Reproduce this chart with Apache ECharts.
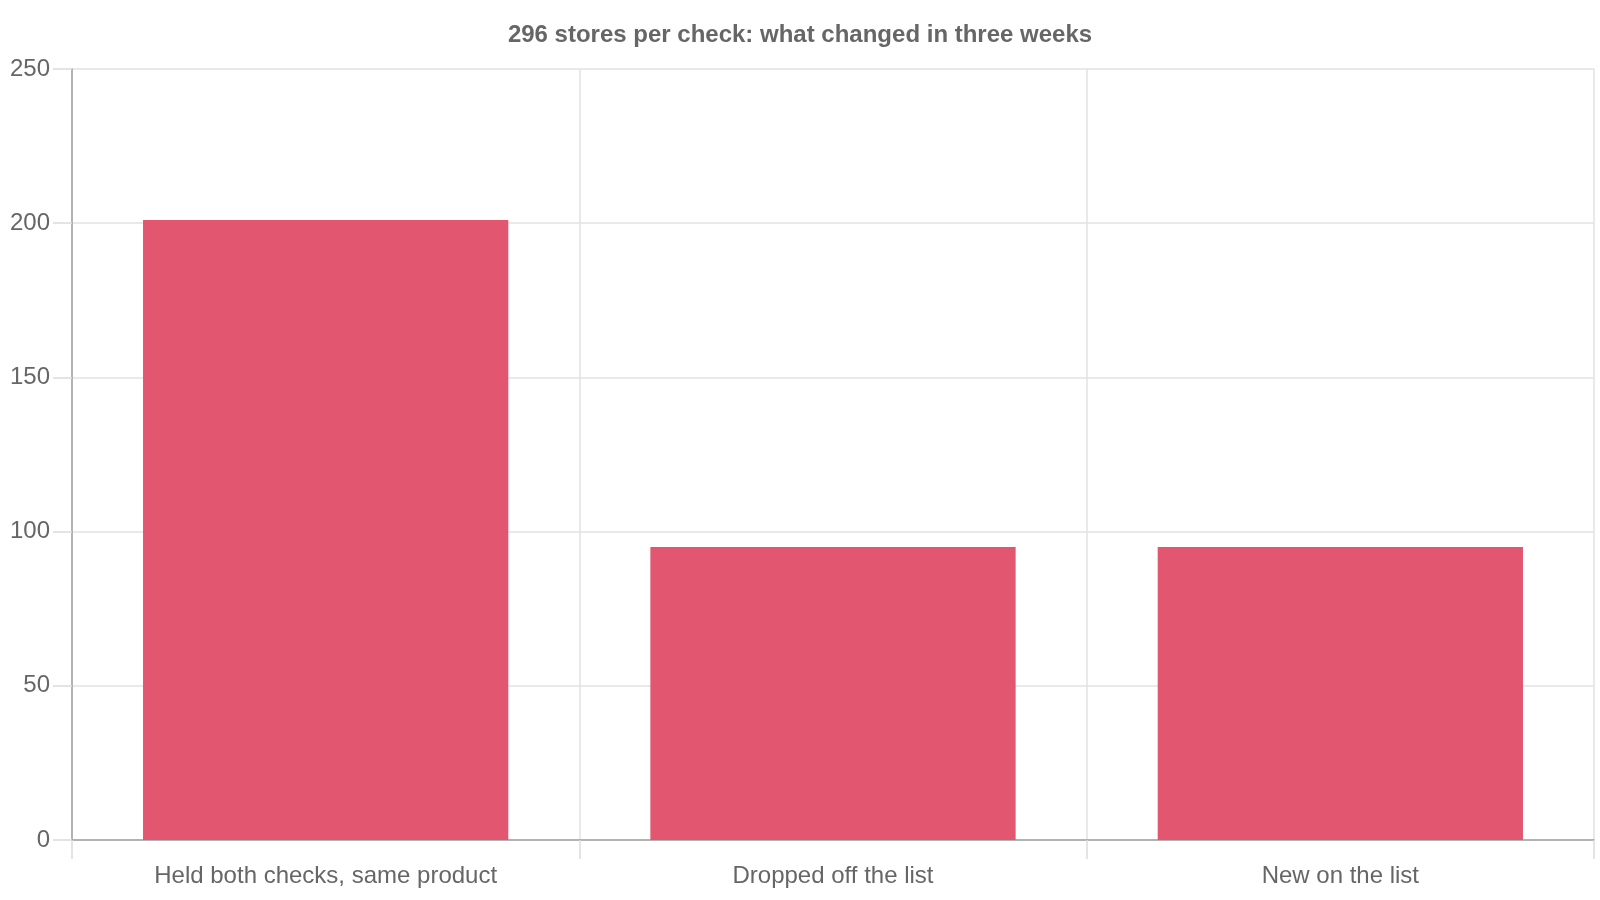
<!DOCTYPE html>
<html>
<head>
<meta charset="utf-8">
<script src="https://cdn.jsdelivr.net/npm/echarts@6/dist/echarts.min.js"></script>
<style>
  html, body { margin: 0; padding: 0; background: #fff; }
  #chart { width: 1600px; height: 900px; }
</style>
</head>
<body>
<div id="chart"></div>
<script>
// data
const categories = ['Held both checks, same product', 'Dropped off the list', 'New on the list'];
const storeCounts = [201, 95, 95];
const yTicks = { min: 0, max: 250, interval: 50 };

const chart = echarts.init(document.getElementById('chart'));
chart.setOption({
    animation: false,
    textStyle: { fontFamily: 'Liberation Sans, Arial, sans-serif' },
    title: {
        text: '296 stores per check: what changed in three weeks',
        left: 'center',
        top: 18,
        textStyle: { fontSize: 24, fontWeight: 'bold', color: '#666', fontFamily: 'Liberation Sans, Arial, sans-serif' }
    },
    grid: { left: 72, right: 6, top: 69, bottom: 60, containLabel: false },
    xAxis: {
        type: 'category',
        data: categories,
        axisLine: { show: true, lineStyle: { color: '#a0a0a0', width: 1.5 } },
        axisTick: { show: true, length: 19, lineStyle: { color: '#dcdcdc', width: 1.5 } },
        splitLine: { show: true, lineStyle: { color: '#e2e2e2', width: 1.5 } },
        axisLabel: { color: '#666', fontSize: 24, margin: 24 }
    },
    yAxis: {
        type: 'value',
        min: yTicks.min,
        max: yTicks.max,
        interval: yTicks.interval,
        axisLine: { show: true, lineStyle: { color: '#a0a0a0', width: 1.5 } },
        axisTick: { show: true, length: 19, lineStyle: { color: '#dcdcdc', width: 1.5 } },
        splitLine: { show: true, lineStyle: { color: '#e2e2e2', width: 1.5 } },
        axisLabel: { color: '#666', fontSize: 24, margin: 22 }
    },
    series: [{
        type: 'bar',
        data: storeCounts,
        barCategoryGap: '28%',
        itemStyle: { color: '#e25670' }
    }]
});
</script>
</body>
</html>
